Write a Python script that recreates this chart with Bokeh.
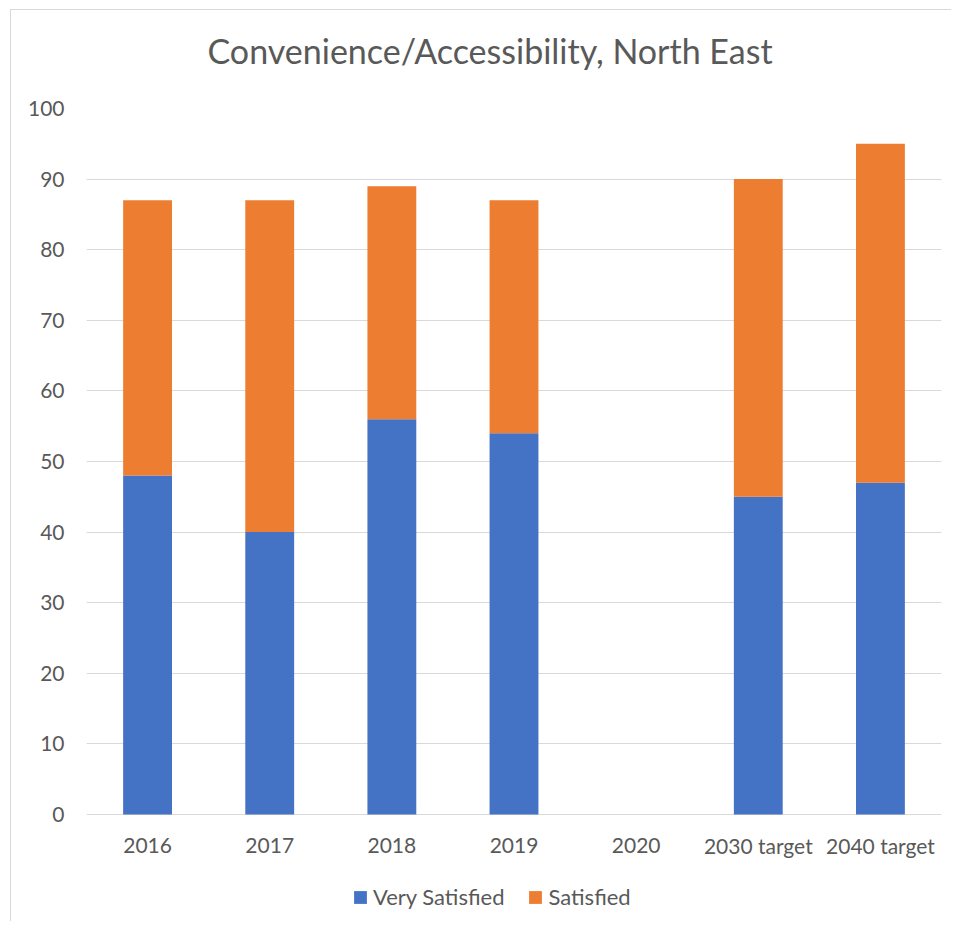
from bokeh.plotting import figure
from bokeh.embed import file_html
from bokeh.resources import INLINE
from bokeh.models import ColumnDataSource, Legend, LegendItem, Title
from bokeh.core.properties import value

categories = ["2016", "2017", "2018", "2019", "2020", "2030 target", "2040 target"]
very_satisfied = [48, 40, 56, 54, 0, 45, 47]
satisfied = [39, 47, 33, 33, 0, 45, 48]
series = ["Very Satisfied", "Satisfied"]
colors = ["#4472C4", "#ED7D31"]
y_ticks = [0, 10, 20, 30, 40, 50, 60, 70, 80, 90, 100]

FONT = "Lato"
GRAY = "#595959"

src = ColumnDataSource(dict(cat=categories, **{"Very Satisfied": very_satisfied, "Satisfied": satisfied}))

# frame extends below zero so the legend (drawn inside the frame) has room
p = figure(x_range=categories, y_range=(-15.3, 100), width=941, height=912,
           output_backend="svg", toolbar_location=None,
           min_border_left=75, min_border_right=11, min_border_top=98, min_border_bottom=0)
p.title = None
# spacer between the title and the plot area (nearest to the frame)
p.add_layout(Title(text=" ", text_font_size="10px", standoff=23), "above")
p.add_layout(Title(text="Convenience/Accessibility, North East", align="left",
                   text_font=FONT, text_font_size="34px", text_font_style="normal",
                   text_color=GRAY, offset=121, standoff=4), "above")

rs = p.vbar_stack(series, x="cat", width=0.4, color=colors, line_color=None, source=src)

# category labels just under the zero line
p.text(x=categories, y=[0] * len(categories), text=categories, y_offset=31,
       text_align="center", text_baseline="middle", text_font=value(FONT),
       text_font_size="21px", text_color=GRAY)

p.outline_line_color = None
p.background_fill_color = "white"
p.border_fill_color = "white"

p.xaxis.visible = False
p.xgrid.grid_line_color = None
p.ygrid.grid_line_color = "#d9d9d9"
p.ygrid.grid_line_width = 1
p.ygrid.ticker = y_ticks
p.yaxis.ticker = y_ticks
p.yaxis.axis_line_color = None
p.yaxis.major_tick_line_color = None
p.yaxis.minor_tick_line_color = None
p.yaxis.major_label_standoff = 16
p.yaxis.major_label_text_font = FONT
p.yaxis.major_label_text_font_size = "21px"
p.yaxis.major_label_text_color = GRAY

legend = Legend(items=[LegendItem(label=s, renderers=[r]) for s, r in zip(series, rs)],
                orientation="horizontal", location=(266, 12),
                label_text_font=FONT, label_text_font_size="22px", label_text_color=GRAY,
                glyph_width=16, glyph_height=16, spacing=23, label_standoff=5,
                padding=0, margin=0, border_line_color=None, background_fill_alpha=0)
p.add_layout(legend)

p.styles = {"margin-left": "10px", "margin-top": "9px",
            "border-left": "1px solid #d9d9d9", "border-top": "1px solid #d9d9d9"}

open("out.html", "w").write(file_html(p, INLINE))
